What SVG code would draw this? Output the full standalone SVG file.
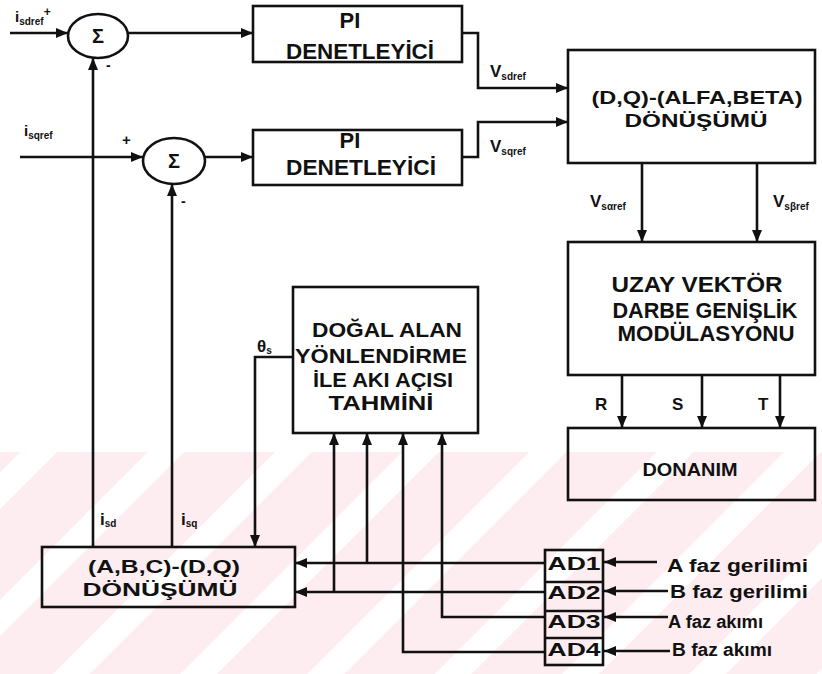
<svg xmlns="http://www.w3.org/2000/svg" width="822" height="674" viewBox="0 0 822 674">
<defs>
<marker id="ah" markerUnits="userSpaceOnUse" markerWidth="13" markerHeight="11" refX="12" refY="5" orient="auto">
<path d="M0,0 L12,5 L0,10 z" fill="#111"/>
</marker>
<pattern id="wm" patternUnits="userSpaceOnUse" width="90" height="90" patternTransform="rotate(45)">
<rect x="0" y="0" width="64" height="90" fill="#fdecf0"/>
</pattern>
</defs>
<style>
.box{fill:none;stroke:#111;stroke-width:2.6}
.ln{fill:none;stroke:#111;stroke-width:2.6}
.t{font-family:"Liberation Sans",Arial,sans-serif;font-weight:bold;fill:#111;text-anchor:middle}
.b{font-size:22px}
.l{font-family:"Liberation Sans",Arial,sans-serif;font-weight:bold;fill:#111}
.sub{font-size:10px}
</style>
<rect width="822" height="674" fill="#fff"/>
<rect x="0" y="452" width="822" height="222" fill="url(#wm)"/>

<g id="connectors">
<path class="ln" d="M10,33 H68" marker-end="url(#ah)"/>
<path class="ln" d="M128,33 H253" marker-end="url(#ah)"/>
<path class="ln" d="M20,157 H143" marker-end="url(#ah)"/>
<path class="ln" d="M205,157 H253" marker-end="url(#ah)"/>
<path class="ln" d="M93,547 V58" marker-end="url(#ah)"/>
<path class="ln" d="M172,547 V184" marker-end="url(#ah)"/>
<path class="ln" d="M462,33 H478 V88 H568" marker-end="url(#ah)"/>
<path class="ln" d="M462,157 H478 V122 H568" marker-end="url(#ah)"/>
<path class="ln" d="M642,163 V242" marker-end="url(#ah)"/>
<path class="ln" d="M757,163 V242" marker-end="url(#ah)"/>
<path class="ln" d="M622,375 V428" marker-end="url(#ah)"/>
<path class="ln" d="M702,375 V428" marker-end="url(#ah)"/>
<path class="ln" d="M780,375 V428" marker-end="url(#ah)"/>
<path class="ln" d="M293,357 H255 V547" marker-end="url(#ah)"/>
<path class="ln" d="M545,563 H295" marker-end="url(#ah)"/>
<path class="ln" d="M545,592 H295" marker-end="url(#ah)"/>
<path class="ln" d="M367,563 V433" marker-end="url(#ah)"/>
<path class="ln" d="M334,592 V433" marker-end="url(#ah)"/>
<path class="ln" d="M545,652 H403 V433" marker-end="url(#ah)"/>
<path class="ln" d="M545,617 H442 V433" marker-end="url(#ah)"/>
<path class="ln" d="M657,562 H604" marker-end="url(#ah)"/>
<path class="ln" d="M668,591 H604" marker-end="url(#ah)"/>
<path class="ln" d="M668,617 H604" marker-end="url(#ah)"/>
<path class="ln" d="M670,651 H604" marker-end="url(#ah)"/>
</g>

<g id="sum1">
<ellipse class="box" cx="98" cy="36" rx="30" ry="22"/>
<text class="t" x="98" y="43" font-size="20">Σ</text>
<text class="l" x="15" y="22" font-size="15">i<tspan class="sub" dy="3">sdref</tspan><tspan font-size="12" dy="-9">+</tspan></text>
<text class="l" x="106" y="70" font-size="14">-</text>
</g>
<g id="sum2">
<ellipse class="box" cx="174" cy="161" rx="31" ry="23"/>
<text class="t" x="174" y="168" font-size="20">Σ</text>
<text class="l" x="24" y="136" font-size="15">i<tspan class="sub" dy="3">sqref</tspan></text>
<text class="l" x="122" y="145" font-size="15">+</text>
<text class="l" x="181" y="206" font-size="14">-</text>
</g>

<g id="pi1">
<rect class="box" x="253" y="6" width="209" height="56"/>
<text class="t b" x="350" y="28">PI</text>
<text class="t b" x="360" y="59" textLength="148" lengthAdjust="spacingAndGlyphs">DENETLEYİCİ</text>
</g>
<g id="pi2">
<rect class="box" x="253" y="130" width="209" height="55"/>
<text class="t b" x="350" y="148">PI</text>
<text class="t b" x="361" y="175" textLength="150" lengthAdjust="spacingAndGlyphs">DENETLEYİCİ</text>
</g>
<g id="lbl-v">
<text class="l" x="490" y="77" font-size="17">V<tspan class="sub" dy="3">sdref</tspan></text>
<text class="l" x="490" y="152" font-size="17">V<tspan class="sub" dy="3">sqref</tspan></text>
<text class="l" x="590" y="207" font-size="17">V<tspan class="sub" dy="3">sαref</tspan></text>
<text class="l" x="773" y="207" font-size="17">V<tspan class="sub" dy="3">sβref</tspan></text>
</g>

<g id="dq">
<rect class="box" x="568" y="50" width="247" height="113"/>
<text class="t" x="697" y="104" font-size="19" textLength="211" lengthAdjust="spacingAndGlyphs">(D,Q)-(ALFA,BETA)</text>
<text class="t" x="696" y="127" font-size="19" textLength="143" lengthAdjust="spacingAndGlyphs">DÖNÜŞÜMÜ</text>
</g>

<g id="uzay">
<rect class="box" x="568" y="242" width="247" height="133"/>
<text class="t b" x="697" y="292" textLength="171" lengthAdjust="spacingAndGlyphs">UZAY VEKTÖR</text>
<text class="t b" x="705" y="318" textLength="185" lengthAdjust="spacingAndGlyphs">DARBE GENİŞLİK</text>
<text class="t b" x="706" y="341" textLength="177" lengthAdjust="spacingAndGlyphs">MODÜLASYONU</text>
<text class="l" x="595" y="410" font-size="17">R</text>
<text class="l" x="672" y="410" font-size="17">S</text>
<text class="l" x="758" y="410" font-size="17">T</text>
</g>

<g id="donanim">
<rect class="box" x="568" y="428" width="247" height="72"/>
<text class="t" x="690" y="476" font-size="19" textLength="95" lengthAdjust="spacingAndGlyphs">DONANIM</text>
</g>

<g id="dogal">
<rect class="box" x="293" y="287" width="185" height="146"/>
<text class="t" x="387" y="337" font-size="20" textLength="150" lengthAdjust="spacingAndGlyphs">DOĞAL ALAN</text>
<text class="t" x="381" y="363" font-size="20" textLength="172" lengthAdjust="spacingAndGlyphs">YÖNLENDİRME</text>
<text class="t" x="383" y="387" font-size="20" textLength="140" lengthAdjust="spacingAndGlyphs">İLE AKI AÇISI</text>
<text class="t" x="381" y="410" font-size="20" textLength="105" lengthAdjust="spacingAndGlyphs">TAHMİNİ</text>
<text class="l" x="257" y="352" font-size="17">θ<tspan class="sub" dy="2">s</tspan></text>
</g>

<g id="abc">
<rect class="box" x="42" y="547" width="253" height="60"/>
<text class="t" x="164" y="573" font-size="19" textLength="152" lengthAdjust="spacingAndGlyphs">(A,B,C)-(D,Q)</text>
<text class="t" x="160" y="596" font-size="19" textLength="155" lengthAdjust="spacingAndGlyphs">DÖNÜŞÜMÜ</text>
<text class="l" x="100" y="525" font-size="17">i<tspan class="sub" dy="2">sd</tspan></text>
<text class="l" x="181" y="525" font-size="17">i<tspan class="sub" dy="2">sq</tspan></text>
</g>

<g id="ad">
<rect class="box" x="545" y="550" width="58" height="115"/>
<path class="ln" d="M545,582 H603 M545,611 H603 M545,638 H603"/>
<text class="t" x="574" y="570" font-size="19" textLength="53" lengthAdjust="spacingAndGlyphs">AD1</text>
<text class="t" x="574" y="599" font-size="19" textLength="53" lengthAdjust="spacingAndGlyphs">AD2</text>
<text class="t" x="574" y="628" font-size="19" textLength="53" lengthAdjust="spacingAndGlyphs">AD3</text>
<text class="t" x="574" y="656" font-size="19" textLength="53" lengthAdjust="spacingAndGlyphs">AD4</text>
</g>

<g id="inputs">
<text class="l" x="667" y="572" font-size="18" textLength="141" lengthAdjust="spacingAndGlyphs">A faz gerilimi</text>
<text class="l" x="670" y="598" font-size="18" textLength="138" lengthAdjust="spacingAndGlyphs">B faz gerilimi</text>
<text class="l" x="668" y="628" font-size="18" textLength="95" lengthAdjust="spacingAndGlyphs">A faz akımı</text>
<text class="l" x="672" y="656" font-size="18" textLength="100" lengthAdjust="spacingAndGlyphs">B faz akımı</text>
</g>
</svg>
